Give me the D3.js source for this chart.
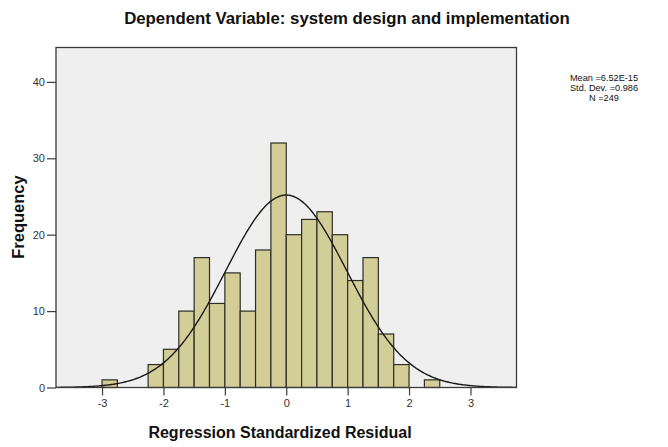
<!DOCTYPE html>
<html>
<head>
<meta charset="utf-8">
<script src="https://cdn.jsdelivr.net/npm/d3@7"></script>
<style>
  html, body { margin: 0; padding: 0; background: #ffffff; }
  svg { display: block; font-family: "Liberation Sans", Arial, sans-serif; }
</style>
</head>
<body>
<svg id="chart" width="668" height="447"></svg>
<script>
// ---- data ----
const binStarts = [-3.0, -2.75, -2.5, -2.25, -2.0, -1.75, -1.5, -1.25, -1.0, -0.75, -0.5, -0.25,
                   0.0, 0.25, 0.5, 0.75, 1.0, 1.25, 1.5, 1.75, 2.0, 2.25];
const frequencies = [1, 0, 0, 3, 5, 10, 17, 11, 15, 10, 18, 32,
                     20, 22, 23, 20, 14, 17, 7, 3, 0, 1];
const binWidth = 0.25;
const xTicks = [-3, -2, -1, 0, 1, 2, 3];
const yTicks = [0, 10, 20, 30, 40];
const statMean = 6.52e-15;
const statSD = 0.986;
const statN = 249;
const statLines = ["Mean =6.52E-15", "Std. Dev. =0.986", "N =249"];
const titleText = "Dependent Variable: system design and implementation";
const xTitle = "Regression Standardized Residual";
const yTitle = "Frequency";

// ---- layout ----
const svg = d3.select("#chart");
const plot = { left: 56, right: 516.5, top: 47.5, bottom: 387.5 };

const x = d3.scaleLinear().domain([-3.75, 3.75]).range([plot.left, plot.right]);
const y = d3.scaleLinear().domain([0, 44.5]).range([plot.bottom, plot.top]);

// background
svg.append("rect")
  .attr("x", plot.left).attr("y", plot.top)
  .attr("width", plot.right - plot.left).attr("height", plot.bottom - plot.top)
  .attr("fill", "#efefef");

// bars
const bins = binStarts.map((s, i) => ({ x0: s, x1: s + binWidth, n: frequencies[i] }))
  .filter(d => d.n > 0);
svg.append("g").selectAll("rect").data(bins).join("rect")
  .attr("x", d => x(d.x0))
  .attr("y", d => y(d.n))
  .attr("width", d => x(d.x1) - x(d.x0))
  .attr("height", d => y(0) - y(d.n))
  .attr("fill", "#d3ce97")
  .attr("stroke", "#2e2e26")
  .attr("stroke-width", 1.2);

// normal curve
const pts = d3.range(-3.75, 3.7501, 0.02);
const dens = v => statN * binWidth / (statSD * Math.sqrt(2 * Math.PI)) *
  Math.exp(-0.5 * Math.pow((v - statMean) / statSD, 2));
svg.append("path")
  .datum(pts)
  .attr("d", d3.line().x(v => x(v)).y(v => y(dens(v))))
  .attr("fill", "none")
  .attr("stroke", "#1a1a1a")
  .attr("stroke-width", 1.4);

// frame
svg.append("rect")
  .attr("x", plot.left).attr("y", plot.top)
  .attr("width", plot.right - plot.left).attr("height", plot.bottom - plot.top)
  .attr("fill", "none")
  .attr("stroke", "#3c3c3c")
  .attr("stroke-width", 1.3);

// axes
const xAxis = d3.axisBottom(x).tickValues(xTicks).tickSize(8).tickPadding(4)
  .tickFormat(d => String(d));
const gx = svg.append("g").attr("transform", `translate(0,${plot.bottom})`).call(xAxis);
gx.select(".domain").remove();
gx.selectAll("line").attr("stroke", "#3c3c3c").attr("stroke-width", 1.2);
gx.selectAll("text").attr("fill", "#333").attr("font-size", 11)
  .attr("font-family", "Liberation Sans, Arial, sans-serif");

const yAxis = d3.axisLeft(y).tickValues(yTicks).tickSize(9).tickPadding(2);
const gy = svg.append("g").attr("transform", `translate(${plot.left},0)`).call(yAxis);
gy.select(".domain").remove();
gy.selectAll("line").attr("stroke", "#3c3c3c").attr("stroke-width", 1.2);
gy.selectAll("text").attr("fill", "#333").attr("font-size", 11)
  .attr("font-family", "Liberation Sans, Arial, sans-serif");

// titles
svg.append("text")
  .attr("x", 347).attr("y", 24)
  .attr("text-anchor", "middle")
  .attr("font-size", 16.8).attr("font-weight", "bold")
  .attr("fill", "#111")
  .text(titleText);

svg.append("text")
  .attr("x", 280).attr("y", 438)
  .attr("text-anchor", "middle")
  .attr("font-size", 16).attr("font-weight", "bold")
  .attr("fill", "#111")
  .text(xTitle);

svg.append("text")
  .attr("transform", "translate(24,217) rotate(-90)")
  .attr("text-anchor", "middle")
  .attr("font-size", 16.5).attr("font-weight", "bold")
  .attr("fill", "#111")
  .text(yTitle);

// stats legend
svg.append("g").selectAll("text").data(statLines).join("text")
  .attr("x", 604)
  .attr("y", (d, i) => 80.5 + i * 10)
  .attr("text-anchor", "middle")
  .attr("font-size", 9.2)
  .attr("fill", "#111")
  .text(d => d);
</script>
</body>
</html>
